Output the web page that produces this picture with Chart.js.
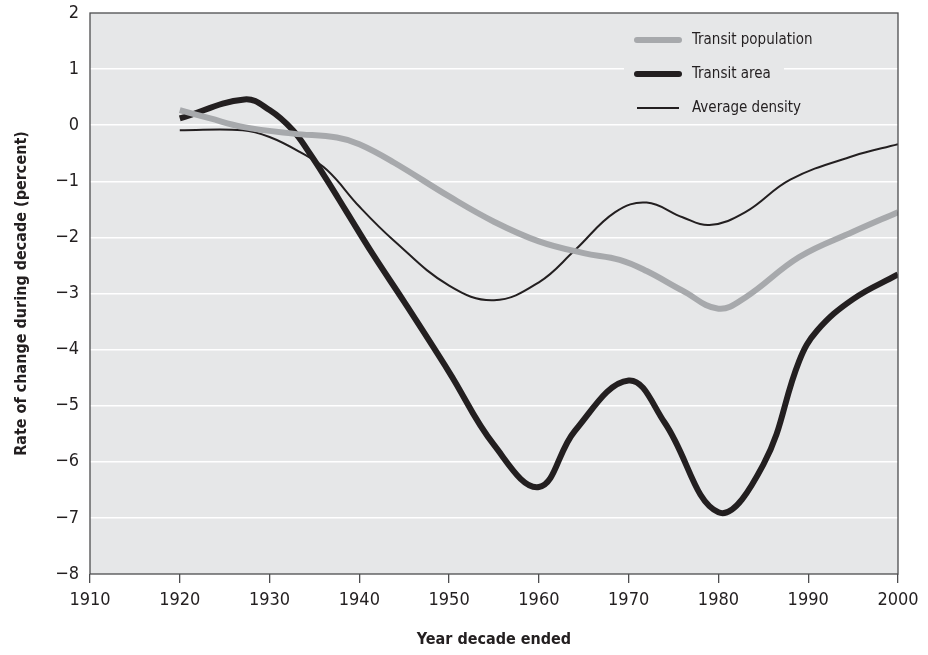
<!DOCTYPE html>
<html>
<head>
<meta charset="utf-8">
<script src="https://cdn.jsdelivr.net/npm/chart.js@4.4.1/dist/chart.umd.min.js"></script>
<style>
  html, body { margin: 0; padding: 0; background: #fff; }
  #wrap { width: 928px; height: 655px; }
</style>
</head>
<body>
<div id="wrap"><canvas id="chart" width="928" height="655"></canvas></div>
<script>
const FONT = '"Liberation Sans Narrow", "DejaVu Sans Condensed", sans-serif'
const INK = '#231f20'

// values (percent change during decade)
const populationYears = [1920, 1923.4, 1927, 1932.6, 1937.5, 1940, 1943.8, 1950, 1955, 1960, 1965, 1969, 1972, 1976, 1980, 1983, 1989, 1995, 2000]
const populationValues = [0.27, 0.12, -0.03, -0.15, -0.22, -0.34, -0.66, -1.27, -1.72, -2.07, -2.28, -2.4, -2.6, -2.95, -3.27, -3.07, -2.35, -1.9, -1.55]

const areaYears = [1920, 1927.2, 1930, 1932.6, 1934.5, 1936.4, 1938.6, 1941.5, 1945, 1950, 1955, 1960, 1964, 1970, 1974, 1980, 1985, 1989, 1991, 1995, 2000]
const areaValues = [0.12, 0.46, 0.27, -0.09, -0.51, -0.98, -1.55, -2.3, -3.15, -4.4, -5.7, -6.45, -5.45, -4.55, -5.3, -6.9, -6.05, -4.2, -3.66, -3.1, -2.66]

const densityYears = [1920, 1927, 1930, 1933.4, 1936.4, 1940, 1943.8, 1950, 1955, 1960, 1964, 1968.5, 1972, 1976, 1979, 1983, 1988, 1995, 2000]
const densityValues = [-0.09, -0.09, -0.21, -0.48, -0.8, -1.45, -2.05, -2.86, -3.12, -2.8, -2.23, -1.55, -1.38, -1.64, -1.78, -1.55, -0.97, -0.55, -0.34]

const seriesLabels = ['Transit population', 'Transit area', 'Average density']

function toPoints(xs, ys) {
  return xs.map((x, i) => ({x: x, y: ys[i]}))
}

function minusSign(v) {
  return v < 0 ? '\u2212' + Math.abs(v) : String(v)
}

const plotBackground = {
  id: 'plotBackground',
  beforeDraw(chart) {
    const {ctx, chartArea: a} = chart
    ctx.save()
    ctx.fillStyle = '#e6e7e8'
    ctx.fillRect(a.left, a.top, a.right - a.left, a.bottom - a.top)
    ctx.restore()
  },
  afterDraw(chart) {
    const {ctx, chartArea: a} = chart
    ctx.save()
    ctx.strokeStyle = '#4d4d4f'
    ctx.lineWidth = 1.3
    ctx.strokeRect(a.left, a.top, a.right - a.left, a.bottom - a.top)
    ctx.restore()
  }
}

// legend sits inside the plot, top right, on its own grey patch
const insideLegend = {
  id: 'insideLegend',
  afterDatasetsDraw(chart) {
    const {ctx} = chart
    ctx.save()
    ctx.fillStyle = '#e6e7e8'
    ctx.fillRect(624, 26, 160, 92)
    chart.data.datasets.forEach((ds, i) => {
      const y = 40 + i * 34
      ctx.strokeStyle = ds.borderColor
      ctx.lineWidth = ds.borderWidth
      ctx.lineCap = ds.borderWidth > 3 ? 'round' : 'butt'
      ctx.beginPath()
      ctx.moveTo(637, y)
      ctx.lineTo(679, y)
      ctx.stroke()
      ctx.fillStyle = INK
      ctx.font = '15px ' + FONT
      ctx.textBaseline = 'middle'
      ctx.textAlign = 'left'
      ctx.fillText(ds.label, 692, y)
    })
    ctx.restore()
  }
}

new Chart(document.getElementById('chart'), {
  type: 'line',
  data: {
    datasets: [
      {
        label: seriesLabels[0],
        data: toPoints(populationYears, populationValues),
        borderColor: '#a7a9ac',
        borderWidth: 6
      },
      {
        label: seriesLabels[1],
        data: toPoints(areaYears, areaValues),
        borderColor: INK,
        borderWidth: 6
      },
      {
        label: seriesLabels[2],
        data: toPoints(densityYears, densityValues),
        borderColor: INK,
        borderWidth: 2
      }
    ]
  },
  options: {
    responsive: false,
    animation: false,
    layout: {padding: {top: 13, right: 30, left: 0, bottom: 0}},
    elements: {
      point: {radius: 0},
      line: {tension: 0.4, borderCapStyle: 'butt', borderJoinStyle: 'round'}
    },
    plugins: {
      legend: {display: false},
      tooltip: {enabled: false}
    },
    scales: {
      x: {
        type: 'linear',
        min: 1910,
        max: 2000,
        ticks: {
          stepSize: 10,
          color: INK,
          font: {family: FONT, size: 18},
          padding: 7,
          maxRotation: 0,
          callback: v => String(v)
        },
        grid: {drawOnChartArea: false, color: '#4d4d4f', tickLength: 9, lineWidth: 1.3},
        border: {display: false},
        title: {
          display: true,
          text: 'Year decade ended',
          color: INK,
          font: {family: FONT, size: 16, weight: 'bold'},
          padding: {top: 11, bottom: 6}
        },
        afterFit(scale) {
          scale.height = 81
          scale.paddingLeft = 0
          scale.paddingRight = 0
        }
      },
      y: {
        min: -8,
        max: 2,
        ticks: {
          stepSize: 1,
          color: INK,
          font: {family: FONT, size: 18},
          padding: 11,
          callback: v => minusSign(v)
        },
        grid: {
          color: ctx => (ctx.tick && (ctx.tick.value === 2 || ctx.tick.value === -8)) ? 'rgba(0,0,0,0)' : '#ffffff',
          lineWidth: 1.5,
          drawTicks: false
        },
        border: {display: false},
        title: {
          display: true,
          text: 'Rate of change during decade (percent)',
          color: INK,
          font: {family: FONT, size: 16, weight: 'bold'},
          padding: {top: 12, bottom: 4}
        },
        afterFit(scale) {
          scale.width = 90
          scale.paddingTop = 0
          scale.paddingBottom = 0
        }
      }
    }
  },
  plugins: [plotBackground, insideLegend]
})
</script>
</body>
</html>
